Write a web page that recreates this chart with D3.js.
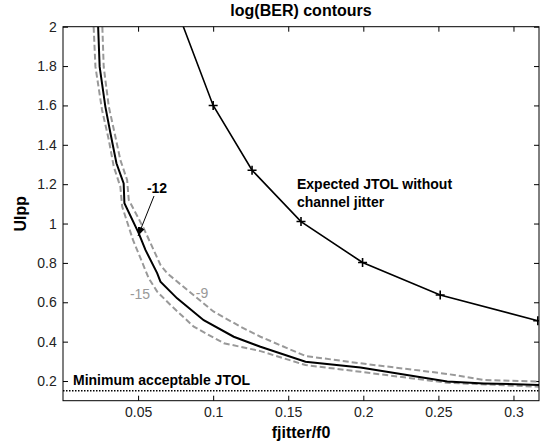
<!DOCTYPE html>
<html>
<head>
<meta charset="utf-8">
<script src="https://cdn.jsdelivr.net/npm/d3@7"></script>
<style>
  html, body { margin: 0; padding: 0; background: #fff; }
  svg { display: block; font-family: "Liberation Sans", Arial, Helvetica, sans-serif; }
</style>
</head>
<body>
<svg id="chart" width="546" height="446"></svg>
<script>
// ---- data ----
const xTicks = [0.05, 0.1, 0.15, 0.2, 0.25, 0.3];
const xTickLabels = ["0.05", "0.1", "0.15", "0.2", "0.25", "0.3"];
const yTicks = [0.2, 0.4, 0.6, 0.8, 1, 1.2, 1.4, 1.6, 1.8, 2];
const yTickLabels = ["0.2", "0.4", "0.6", "0.8", "1", "1.2", "1.4", "1.6", "1.8", "2"];

// Expected JTOL without channel jitter
const jtolX = [0.0794, 0.1, 0.1259, 0.1585, 0.1995, 0.2512, 0.3162];
const jtolY = [2.015, 1.6, 1.271, 1.01, 0.802, 0.637, 0.506];

// log(BER) = -12 contour
const c12X = [0.0234, 0.0244, 0.0282, 0.0316, 0.0356, 0.0404, 0.0409, 0.0504, 0.0549, 0.0627, 0.0649, 0.0760, 0.0937, 0.1137, 0.1315, 0.1615, 0.1981, 0.2559, 0.2803, 0.3170];
const c12Y = [2.0, 1.797, 1.594, 1.459, 1.306, 1.204, 1.103, 0.951, 0.866, 0.748, 0.705, 0.620, 0.509, 0.425, 0.374, 0.298, 0.269, 0.197, 0.188, 0.180];

// log(BER) = -15 contour
const c15X = [0.0204, 0.0216, 0.0260, 0.0305, 0.0338, 0.0382, 0.0394, 0.0466, 0.0571, 0.0627, 0.0716, 0.0871, 0.1071, 0.1315, 0.1615, 0.1981, 0.2559, 0.3170];
const c15Y = [2.0, 1.797, 1.577, 1.425, 1.289, 1.187, 1.086, 0.917, 0.722, 0.654, 0.586, 0.476, 0.392, 0.352, 0.281, 0.247, 0.191, 0.171];

// log(BER) = -9 contour
const c9X = [0.0262, 0.0271, 0.0305, 0.0349, 0.0382, 0.0427, 0.0438, 0.0538, 0.0649, 0.0694, 0.0827, 0.1004, 0.1182, 0.1315, 0.1615, 0.1981, 0.2559, 0.2803, 0.3170];
const c9Y = [2.0, 1.797, 1.594, 1.441, 1.323, 1.221, 1.120, 0.975, 0.790, 0.747, 0.663, 0.552, 0.476, 0.425, 0.327, 0.290, 0.236, 0.205, 0.197];

const minJtol = 0.15;
const xDomain = [0, 0.317];
const yDomain = [0.1, 2];

// ---- chart ----
const svg = d3.select("#chart");
const L = 63, R = 539, T = 26.7, B = 400.7;
const x = d3.scaleLinear().domain(xDomain).range([L, R]);
const y = d3.scaleLinear().domain(yDomain).range([B, T]);

svg.append("rect").attr("width", 546).attr("height", 446).attr("fill", "#fff");

svg.append("defs").append("clipPath").attr("id", "clip")
  .append("rect").attr("x", L).attr("y", T).attr("width", R - L).attr("height", B - T);
svg.select("defs").append("marker")
  .attr("id", "arrow").attr("viewBox", "0 0 10 10").attr("refX", 10).attr("refY", 5)
  .attr("markerWidth", 9).attr("markerHeight", 9).attr("markerUnits", "userSpaceOnUse")
  .attr("orient", "auto")
  .append("path").attr("d", "M0,1 L10,5 L0,9 Z").attr("fill", "#000");

const fs = 14;
// axes
const axB = svg.append("g").attr("transform", `translate(0,${B})`)
  .call(d3.axisBottom(x).tickValues(xTicks).tickFormat((d, i) => xTickLabels[i])
    .tickSizeInner(-5).tickSizeOuter(0).tickPadding(6.4));
const axL = svg.append("g").attr("transform", `translate(${L},0)`)
  .call(d3.axisLeft(y).tickValues(yTicks).tickFormat((d, i) => yTickLabels[i])
    .tickSizeInner(-5).tickSizeOuter(0).tickPadding(6.3));
const axT = svg.append("g").attr("transform", `translate(0,${T})`)
  .call(d3.axisTop(x).tickValues(xTicks).tickFormat("").tickSizeInner(-5).tickSizeOuter(0));
const axR = svg.append("g").attr("transform", `translate(${R},0)`)
  .call(d3.axisRight(y).tickValues(yTicks).tickFormat("").tickSizeInner(-5).tickSizeOuter(0));
[axB, axL, axT, axR].forEach(g => {
  g.select(".domain").remove();
  g.selectAll(".tick line").attr("stroke", "#000");
  g.selectAll("text").attr("font-size", fs).attr("fill", "#222")
    .attr("font-family", "'Liberation Sans', Arial, sans-serif");
});

const plot = svg.append("g").attr("clip-path", "url(#clip)");
const line = d3.line().x(d => x(d[0])).y(d => y(d[1]));

// minimum acceptable JTOL dotted line
plot.append("path").datum([[xDomain[0], minJtol], [xDomain[1], minJtol]])
  .attr("d", line).attr("fill", "none").attr("stroke", "#000")
  .attr("stroke-width", 1.5).attr("stroke-dasharray", "1.5,1.5");

// contours
plot.append("path").datum(d3.zip(c15X, c15Y)).attr("d", line)
  .attr("fill", "none").attr("stroke", "#999").attr("stroke-width", 2)
  .attr("stroke-dasharray", "6,3");
plot.append("path").datum(d3.zip(c9X, c9Y)).attr("d", line)
  .attr("fill", "none").attr("stroke", "#999").attr("stroke-width", 2)
  .attr("stroke-dasharray", "6,3");
plot.append("path").datum(d3.zip(c12X, c12Y)).attr("d", line)
  .attr("fill", "none").attr("stroke", "#000").attr("stroke-width", 2);

// JTOL curve
const jtol = d3.zip(jtolX, jtolY);
plot.append("path").datum(jtol).attr("d", line)
  .attr("fill", "none").attr("stroke", "#000").attr("stroke-width", 1.6);
plot.selectAll(".mk").data(jtol.filter(d => d[1] <= yDomain[1])).enter()
  .append("path").attr("class", "mk")
  .attr("d", d => `M${x(d[0]) - 4.5},${y(d[1])}H${x(d[0]) + 4.5}M${x(d[0])},${y(d[1]) - 4.5}V${y(d[1]) + 4.5}`)
  .attr("stroke", "#000").attr("stroke-width", 1.6);

// box
svg.append("rect").attr("x", L).attr("y", T).attr("width", R - L).attr("height", B - T)
  .attr("fill", "none").attr("stroke", "#000").attr("stroke-width", 1);

// annotations
svg.append("text").attr("x", 73).attr("y", 385).attr("font-size", 14).attr("font-weight", "bold")
  .attr("fill", "#000").text("Minimum acceptable JTOL");
const ex = svg.append("text").attr("x", 297).attr("y", 189).attr("font-size", 14)
  .attr("font-weight", "bold").attr("fill", "#000");
ex.append("tspan").attr("x", 297).text("Expected JTOL without");
ex.append("tspan").attr("x", 297).attr("dy", 18).text("channel jitter");

svg.append("text").attr("x", 157).attr("y", 192.5).attr("text-anchor", "middle")
  .attr("font-size", 14).attr("font-weight", "bold").attr("fill", "#000").text("-12");
svg.append("line").attr("x1", 154).attr("y1", 196).attr("x2", 138).attr("y2", 236)
  .attr("stroke", "#000").attr("stroke-width", 1).attr("marker-end", "url(#arrow)");

svg.append("text").attr("x", 140).attr("y", 299).attr("text-anchor", "middle")
  .attr("font-size", 14).attr("fill", "#999").text("-15");
svg.append("text").attr("x", 202).attr("y", 298).attr("text-anchor", "middle")
  .attr("font-size", 14).attr("fill", "#999").text("-9");

// titles
svg.append("text").attr("x", (L + R) / 2).attr("y", 16).attr("text-anchor", "middle")
  .attr("font-size", 16).attr("font-weight", "bold").attr("fill", "#000").text("log(BER) contours");
svg.append("text").attr("x", (L + R) / 2).attr("y", 438).attr("text-anchor", "middle")
  .attr("font-size", 16).attr("font-weight", "bold").attr("fill", "#000").text("fjitter/f0");
svg.append("text").attr("transform", `translate(26,${(T + B) / 2}) rotate(-90)`)
  .attr("text-anchor", "middle")
  .attr("font-size", 16).attr("font-weight", "bold").attr("fill", "#000").text("UIpp");
</script>
</body>
</html>
